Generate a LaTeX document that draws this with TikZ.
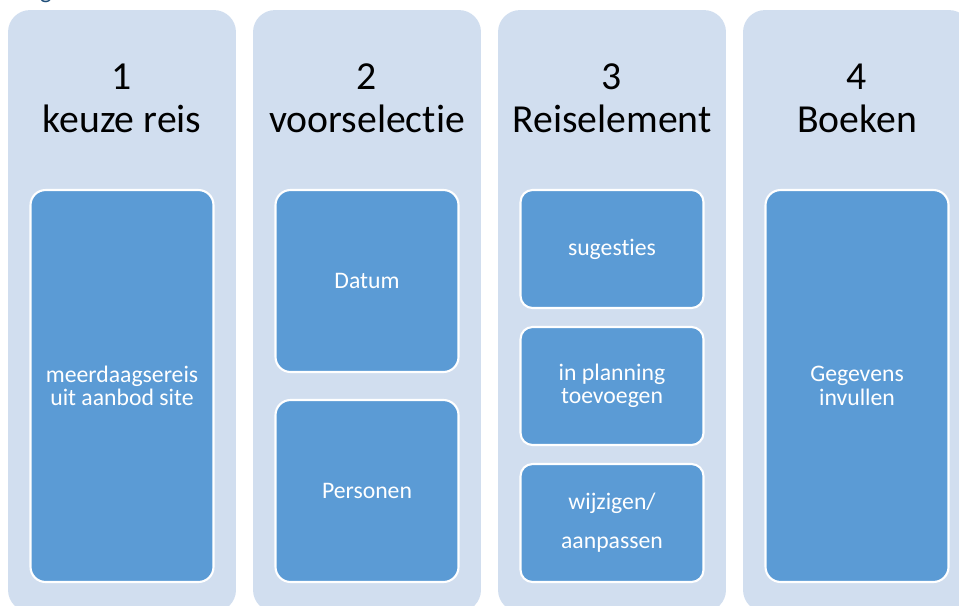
\documentclass[tikz,border=0pt]{standalone}
\usepackage{fontspec}
\setmainfont{Carlito}[Ligatures=NoCommon]
\definecolor{phaseblue}{RGB}{209,222,239}
\definecolor{taskblue}{RGB}{91,155,213}
\definecolor{headblue}{RGB}{31,78,121}
\tikzstyle{phase} = [rectangle, fill=phaseblue, rounded corners=0.44cm, minimum width=4.56cm, minimum height=12.04cm, inner sep=0pt]
\tikzstyle{phasenum} = [anchor=base, inner sep=0pt, font=\fontsize{22.6}{26}\selectfont]
\tikzstyle{task} = [rectangle, draw=white, line width=1.2pt, fill=taskblue, rounded corners=0.3cm, minimum width=3.66cm, inner sep=0pt, text=white, align=center, font=\fontsize{13.5}{13.4}\selectfont]
\tikzstyle{smalltask} = [task, rounded corners=0.24cm, minimum height=2.36cm]

\begin{document}
\begin{tikzpicture}[x=0.02cm, y=-0.02cm]
		\useasboundingbox (0,0) rectangle (959,605);
		% cut-off heading above
		\node[anchor=base, inner sep=0pt, text=headblue, font=\fontsize{14}{16}\selectfont] (head) at (46,-2) {g};
		% phase backgrounds
		\node[phase] (ph1) at (122,311) {};
		\node[phase] (ph2) at (367,311) {};
		\node[phase] (ph3) at (612,311) {};
		\node[phase] (ph4) at (857,311) {};
		% phase titles
		\node[phasenum] (num1) at (122,89) {1};
		\node[phasenum] (name1) at (122,132) {keuze reis};
		\node[phasenum] (num2) at (367,89) {2};
		\node[phasenum] (name2) at (367,132) {voorselectie};
		\node[phasenum] (num3) at (612,89) {3};
		\node[phasenum] (name3) at (612,132) {Reiselement};
		\node[phasenum] (num4) at (857,89) {4};
		\node[phasenum] (name4) at (857,132) {Boeken};
		% phase 1
		\node[task, minimum height=7.84cm] (reis) at (122,386) {meerdaagsereis\\uit aanbod site};
		% phase 2
		\node[task, minimum height=3.64cm] (datum) at (367,281) {Datum};
		\node[task, minimum height=3.64cm] (pers) at (367,491) {Personen};
		% phase 3
		\node[smalltask] (sug) at (612,249) {sugesties};
		\node[smalltask] (plan) at (612,386) {in planning\\toevoegen};
		\node[smalltask, font=\fontsize{13.5}{22.2}\selectfont] (wijz) at (612,523) {wijzigen/\\aanpassen};
		% phase 4
		\node[task, minimum height=7.84cm] (geg) at (857,386) {Gegevens\\invullen};
	\end{tikzpicture}
\end{document}
